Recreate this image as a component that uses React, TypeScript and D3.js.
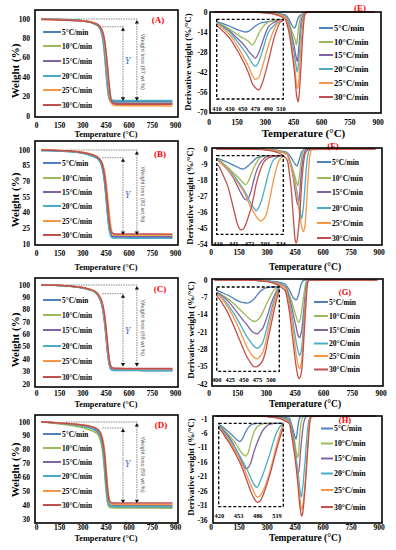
import React from 'react';
import * as d3 from 'd3';

const RATES = ['5°C/min', '10°C/min', '15°C/min', '20°C/min', '25°C/min', '30°C/min'];
const COLORS = ['#4F81BD', '#9BBB59', '#8064A2', '#4BACC6', '#F79646', '#C0504D'];
const TEMP_TICKS = [0, 150, 300, 450, 600, 750, 900];

// ---------- TGA (weight %) ----------
const TGA_T = [30, 100, 200, 300, 350, 380, 400, 420, 430, 440, 450, 460, 470, 480, 490, 500, 520, 600, 700, 880];

const A_TICKS = [0, 20, 40, 60, 80, 100];
const A_5 = [100, 99.8, 99.3, 98, 96.5, 94.5, 92.5, 86, 78, 64, 45, 28, 18, 15.5, 15.2, 15, 14.9, 14.8, 14.7, 14.6];
const A_10 = [100, 99.8, 99.3, 98, 96.5, 94.5, 92.5, 87, 80, 68, 50, 32, 19, 14.5, 13.8, 13.5, 13.4, 13.3, 13.2, 13.1];
const A_15 = [100, 99.8, 99.3, 98.2, 96.8, 95, 93, 88, 82, 72, 56, 38, 22, 15, 13.5, 13.2, 13.1, 13, 12.9, 12.8];
const A_20 = [100, 99.8, 99.3, 98.2, 96.8, 95, 93, 88, 82, 72, 56, 38, 24, 18, 16.5, 16.2, 16.1, 16, 16, 15.9];
const A_25 = [100, 99.6, 99, 98.3, 97.2, 95.8, 94, 90, 85, 77, 64, 47, 30, 17, 12, 11, 10.7, 10.6, 10.5, 10.4];
const A_30 = [99.5, 99.2, 98.7, 97.8, 96.8, 95.5, 94, 90, 86, 79, 67, 51, 34, 20, 14, 12.5, 12.2, 12.1, 12, 12];

const B_TICKS = [10, 25, 40, 55, 70, 85, 100];
const B_5 = [99.5, 99.2, 98.6, 96.8, 94.8, 93, 91, 86, 80, 70, 55, 38, 25, 19, 17, 16.6, 16.5, 16.4, 16.3, 16.2];
const B_10 = [100, 99.7, 99, 97.2, 95.3, 93.5, 91.5, 87, 82, 73, 60, 43, 28, 20, 18, 17.7, 17.6, 17.5, 17.4, 17.3];
const B_15 = [100, 99.7, 99.1, 97.4, 95.6, 94, 92, 87.5, 82, 73, 59, 42, 28, 20, 17.5, 17.2, 17.1, 17, 17, 16.9];
const B_20 = [99.5, 99.2, 98.6, 96.8, 94.8, 93, 91, 86, 80, 70, 56, 39, 25, 18, 16, 15.8, 15.7, 15.6, 15.5, 15.5];
const B_25 = [100, 99.8, 99.3, 97.8, 96.3, 94.8, 93, 89.5, 86, 80, 70, 56, 41, 28, 21, 19, 18.7, 18.6, 18.5, 18.5];
const B_30 = [100, 99.8, 99.2, 97.6, 96, 94.4, 92.5, 88.5, 84, 76, 64, 48, 33, 23, 20.5, 19.8, 19.6, 19.5, 19.5, 19.4];

const C_TICKS = [20, 30, 40, 50, 60, 70, 80, 90, 100];
const C_5 = [100, 99.8, 99.2, 97.5, 95.8, 94, 91, 85, 79, 70, 58, 45, 36, 32, 31.2, 31, 30.9, 30.9, 30.8, 30.8];
const C_10 = [100, 99.8, 99.2, 97.6, 96, 94.2, 91.5, 86, 80.5, 72, 60, 47, 37, 33, 32, 31.7, 31.6, 31.6, 31.5, 31.5];
const C_15 = [100, 99.8, 99.3, 97.7, 96, 94.3, 91.5, 86, 81, 72.5, 61, 48, 38, 33, 32.2, 32, 31.9, 31.9, 31.8, 31.8];
const C_20 = [100, 99.8, 99.2, 97.6, 96, 94.2, 91.5, 86, 80.5, 72, 60, 47, 37, 32.5, 31.5, 31.2, 31.1, 31.1, 31, 31];
const C_25 = [100, 99.8, 99.3, 97.8, 96.3, 94.6, 92, 87, 82.5, 75, 64, 51, 40, 34.5, 33, 32.6, 32.5, 32.4, 32.3, 32.3];
const C_30 = [100, 99.8, 99.3, 97.9, 96.5, 94.8, 92.5, 88, 83.5, 76.5, 66, 53, 41.5, 35, 33.2, 32.8, 32.7, 32.6, 32.5, 32.5];

const D_TICKS = [30, 40, 50, 60, 70, 80, 90, 100];
const D_5 = [100, 99.6, 98.6, 97, 95.5, 94, 92, 86, 79, 67, 53, 43, 39.5, 38.8, 38.6, 38.5, 38.4, 38.4, 38.3, 38.3];
const D_10 = [100, 99.3, 97.8, 95.8, 94, 92.5, 90.5, 84, 77, 65, 51, 41.5, 38.7, 38.2, 38.1, 38, 38, 37.9, 37.9, 37.8];
const D_15 = [100, 99.6, 98.7, 97.2, 96, 94.8, 93, 88, 82, 72, 58, 46, 41, 40, 39.8, 39.7, 39.6, 39.6, 39.5, 39.5];
const D_20 = [100, 99.6, 98.6, 97, 95.7, 94.3, 92.5, 87, 80.5, 70, 56, 45, 40.5, 39.4, 39.2, 39.1, 39.1, 39, 39, 39];
const D_25 = [100, 99.7, 99, 97.8, 96.8, 95.8, 94.5, 91, 87, 80, 68, 54, 45, 41.5, 40.8, 40.6, 40.6, 40.5, 40.5, 40.5];
const D_30 = [100, 99.7, 99, 97.8, 96.8, 95.7, 94.2, 90, 85, 77, 64, 51, 44, 42, 41.7, 41.6, 41.6, 41.5, 41.5, 41.5];

// ---------- DTG (derivative weight %/°C) ----------
const E_T = [30, 150, 250, 300, 350, 380, 400, 410, 420, 430, 440, 450, 455, 460, 465, 470, 475, 480, 490, 500, 510, 520, 530, 600, 700, 880];
const E_TICKS = [0, -14, -28, -42, -56, -70];
const E_INSET_TICKS = [410, 430, 450, 470, 490, 510];
const E_5 = [0, 0, -0.1, -0.3, -0.8, -1.4, -1.9, -2.4, -4, -6.2, -8.8, -10.8, -11.3, -10.5, -8.5, -6, -4.2, -3, -2, -1.2, -0.5, -0.1, 0, 0, 0, 0];
const E_10 = [0, 0, -0.1, -0.4, -1, -1.8, -2.6, -3.3, -5.5, -9, -13, -16.5, -18, -20, -23, -19, -13, -8, -2.5, -1, -0.3, 0, 0, 0, 0, 0];
const E_15 = [0, 0, -0.1, -0.4, -1.1, -2, -2.9, -3.6, -6.5, -10.4, -16, -21.6, -25, -29, -32, -34.7, -30, -22, -7, -2.5, -0.5, -0.1, 0, 0, 0, 0];
const E_20 = [0, 0, -0.1, -0.4, -1.1, -2, -2.9, -3.6, -7, -11.5, -18.5, -26, -30, -34.5, -39, -42, -38, -30, -12, -5, -0.8, -0.2, 0, 0, 0, 0];
const E_25 = [0, 0, -0.1, -0.5, -1.2, -2.2, -3.2, -4.1, -8.5, -13.9, -22, -32, -37, -43, -49.8, -53.5, -52, -44, -24, -8, -1, -0.2, 0, 0, 0, 0];
const E_30 = [0, 0, -0.2, -0.6, -1.6, -3, -4.5, -5.9, -11, -17, -26, -36.4, -42, -49, -57, -61, -63, -58, -38, -15, -2, -0.4, 0, 0, 0, 0];

const F_T = [30, 150, 250, 300, 350, 380, 400, 410, 420, 430, 440, 450, 455, 460, 465, 470, 475, 480, 485, 490, 495, 500, 505, 510, 520, 530, 540, 600, 700, 880];
const F_TICKS = [0, -9, -18, -27, -36, -45, -54];
const F_INSET_TICKS = [410, 441, 472, 503, 534];
const F_5 = [0, 0, -0.1, -0.3, -0.7, -1.2, -1.7, -2.1, -3.5, -5, -6.8, -8.5, -9.3, -9.6, -8.6, -7.1, -5.3, -3.5, -1.9, -1.1, -0.5, -0.2, 0, 0, 0, 0, 0, 0, 0, 0];
const F_10 = [0, 0, -0.1, -0.3, -0.8, -1.5, -2.1, -2.6, -5.5, -8.5, -12.3, -15.7, -17.7, -19.6, -20.9, -18.2, -13.7, -9.1, -5.5, -2.7, -0.9, -0.3, 0, 0, 0, 0, 0, 0, 0, 0];
const F_15 = [0, 0, -0.1, -0.4, -1, -1.8, -2.7, -3.4, -6.8, -10.5, -15.9, -23.2, -26.8, -30, -31.8, -30.5, -25.5, -18.2, -11.8, -7.3, -4.3, -2.3, -0.7, -0.2, 0, 0, 0, 0, 0, 0];
const F_20 = [0, 0, -0.1, -0.4, -1, -1.8, -2.7, -3.4, -6.4, -9.6, -13.7, -18.7, -21.4, -24.1, -27.3, -31, -34.6, -37.3, -39.6, -37.3, -33, -26.4, -19.1, -11.8, -2.7, -0.5, 0, 0, 0, 0];
const F_25 = [0, 0, -0.1, -0.4, -1, -1.8, -2.7, -3.4, -6.8, -10, -15, -20, -22.8, -25.5, -29.1, -33.7, -37.3, -40.5, -43.7, -46, -47, -45.5, -42.3, -34.6, -16.4, -3.6, -0.5, 0, 0, 0];
const F_30 = [0, 0, -0.2, -0.7, -1.8, -3.3, -5, -6.8, -13.9, -22.8, -37.3, -51, -53.4, -52.8, -49.1, -43.7, -37.9, -30, -20.9, -14.1, -8.6, -4.7, -2.7, -1.4, -0.5, 0, 0, 0, 0, 0];

const G_T = [30, 150, 250, 300, 350, 380, 400, 410, 420, 430, 440, 450, 455, 460, 465, 470, 475, 480, 485, 490, 495, 500, 505, 510, 515, 520, 530, 600, 700, 880];
const G_TICKS = [0, -7, -14, -21, -28, -35, -42];
const G_INSET_TICKS = [400, 425, 450, 475, 500];
const G_5 = [0, 0, -0.1, -0.3, -0.7, -1.2, -1.7, -2.8, -4, -5.5, -7, -7.8, -8, -7.8, -6.8, -5.6, -3.8, -2.2, -1.2, -0.5, -0.2, 0, 0, 0, 0, 0, 0, 0, 0, 0];
const G_10 = [0, 0, -0.1, -0.4, -1, -1.7, -2.5, -4, -5.8, -8, -10.5, -13.2, -14.5, -15.8, -16.7, -17.2, -16.5, -15, -12.5, -9.5, -6.7, -4, -1.7, -0.6, -0.3, 0, 0, 0, 0, 0];
const G_15 = [0, 0, -0.1, -0.4, -1.1, -1.9, -2.8, -4.5, -6.8, -10, -13.5, -17, -18.5, -20.5, -22, -23, -23.3, -22, -20.5, -17, -13, -8.5, -5, -2, -0.5, 0, 0, 0, 0, 0];
const G_20 = [0, 0, -0.1, -0.4, -1.2, -2, -3, -5.5, -8.5, -12.5, -17, -22, -24.5, -26.5, -28.3, -29.8, -30.5, -29.5, -27.5, -23, -17.5, -12, -7, -3, -0.8, 0, 0, 0, 0, 0];
const G_25 = [0, 0, -0.1, -0.5, -1.3, -2.2, -3.3, -6, -9.8, -14.5, -20, -26.5, -29.5, -32, -34, -35.3, -35.8, -34.5, -32.5, -28, -21.5, -15, -9, -4, -1.2, -0.2, 0, 0, 0, 0];
const G_30 = [0, 0, -0.2, -0.6, -1.7, -3, -4.5, -8, -12.5, -18.5, -25, -31.5, -34.5, -36.8, -38.8, -39.8, -39.5, -38.5, -36.5, -32, -25.5, -19, -12.5, -6.5, -1.7, -0.3, 0, 0, 0, 0];

const H_T = [30, 150, 250, 300, 350, 380, 400, 420, 430, 440, 450, 455, 460, 465, 470, 475, 480, 485, 490, 495, 500, 505, 510, 515, 520, 525, 530, 540, 600, 700, 880];
const H_TICKS = [-1, -6, -11, -16, -21, -26, -31, -36];
const H_INSET_TICKS = [420, 453, 486, 519];
const H_5 = [0, 0, 0, -0.1, -0.2, -0.4, -0.5, -0.7, -2.5, -4.7, -7.2, -8, -6.6, -3.8, -1.8, -0.6, -0.2, 0, 0, 0, 0, 0, 0, 0, 0, 0, 0, 0, 0, 0, 0];
const H_10 = [0, 0, 0, -0.1, -0.3, -0.6, -0.9, -1.2, -3.5, -6.2, -9.5, -11.7, -13.3, -14.3, -12.5, -7.5, -3.6, -1.5, -0.6, -0.2, 0, 0, 0, 0, 0, 0, 0, 0, 0, 0, 0];
const H_15 = [0, 0, 0, -0.1, -0.4, -0.7, -1.1, -1.5, -4, -7.2, -12, -14.6, -17.5, -19.8, -19.3, -16.5, -12, -8.5, -5.5, -3, -1.5, -0.6, -0.2, 0, 0, 0, 0, 0, 0, 0, 0];
const H_20 = [0, 0, 0, -0.1, -0.4, -0.8, -1.2, -1.75, -4.7, -8, -12, -14.2, -16.5, -19, -21.5, -24.5, -27, -28, -25.5, -22.3, -18.5, -14.8, -10.5, -6.2, -3.2, -1.2, -0.3, 0, 0, 0, 0];
const H_25 = [0, 0, 0, -0.1, -0.5, -0.9, -1.5, -2.2, -5.3, -9, -13.2, -15.6, -18.4, -21.3, -24.4, -27.5, -30.3, -32.3, -31.7, -29.6, -26.5, -22.7, -18, -13, -8, -3.5, -0.7, 0, 0, 0, 0];
const H_30 = [0, 0, 0, -0.2, -0.6, -1.1, -1.8, -2.6, -5.9, -9.8, -14.5, -17, -20, -23.5, -27, -30.5, -33, -34.6, -34, -31.5, -28, -24, -19.5, -14.5, -10, -5.5, -2, -0.2, 0, 0, 0];

// ---------- layout (pixels) ----------
const SERIF = '"Liberation Serif", "Times New Roman", serif';
const SANS = '"Liberation Sans", Arial, sans-serif';

const TGA_PANELS = [
  { tag: '(A)', loss: 'Weight loss (87 wt.%)', ticks: A_TICKS, series: [A_5, A_10, A_15, A_20, A_25, A_30], lv2: 92, resid: 15.5, yMark: 57,
    L: { fx0: 35, fy0: 10, fx1: 178, fy1: 117, yTop: 19, yBot: 116, xLab: 125, xTitle: 134, yTitleY: 71, leg: [32, 46, 61, 76, 90, 105], tagX: 158, tagY: 20 } },
  { tag: '(B)', loss: 'Weight loss (82 wt.%)', ticks: B_TICKS, series: [B_5, B_10, B_15, B_20, B_25, B_30], lv2: 92.6, resid: 18.6, yMark: 57,
    L: { fx0: 35, fy0: 141, fx1: 178, fy1: 245, yTop: 150, yBot: 244, xLab: 253, xTitle: 267, yTitleY: 200, leg: [163, 178, 192, 206, 221, 235], tagX: 160, tagY: 154 } },
  { tag: '(C)', loss: 'Weight loss (68 wt.%)', ticks: C_TICKS, series: [C_5, C_10, C_15, C_20, C_25, C_30], lv2: 93, resid: 34, yMark: 63,
    L: { fx0: 35, fy0: 278, fx1: 178, fy1: 387, yTop: 285, yBot: 384, xLab: 393, xTitle: 404, yTitleY: 340, leg: [300, 315, 330, 346, 361, 377], tagX: 160, tagY: 289 } },
  { tag: '(D)', loss: 'Weight loss (59 wt.%)', ticks: D_TICKS, series: [D_5, D_10, D_15, D_20, D_25, D_30], lv2: 95.7, resid: 41.3, yMark: 70,
    L: { fx0: 35, fy0: 415, fx1: 178, fy1: 523, yTop: 422, yBot: 519, xLab: 527, xTitle: 538, yTitleY: 470, leg: [434, 448, 462, 476, 491, 505], tagX: 161, tagY: 425 } },
];

const DTG_PANELS = [
  { tag: '(E)', T: E_T, ticks: E_TICKS, insetTicks: E_INSET_TICKS, depth: 71, series: [E_5, E_10, E_15, E_20, E_25, E_30],
    L: { fx0: 210, fy0: 12, fx1: 381, fy1: 113, xr0: 209, xr1: 378, yTop: 12, yBot: 112, xLab: 122, xTitle: 133, titleSize: 11, yTitleX: 188, yTitleY: 62,
      lx0: 319, lx1: 333, ltx: 334, legSize: 8.5, leg: [28, 42, 55, 69, 83, 97], tagX: 360, tagY: 8, tagSize: 9,
      bx0: 216.7, by0: 19.3, bx1: 283.3, by1: 99, ir0: 217, ir1: 281, iLab: 108 } },
  { tag: '(F)', T: F_T, ticks: F_TICKS, insetTicks: F_INSET_TICKS, depth: 56.6, series: [F_5, F_10, F_15, F_20, F_25, F_30],
    L: { fx0: 212, fy0: 148, fx1: 382, fy1: 245, xr0: 211, xr1: 379, yTop: 149, yBot: 244, xLab: 252, xTitle: 267, titleSize: 9.5, yTitleX: 190, yTitleY: 196,
      lx0: 317, lx1: 331, ltx: 332, legSize: 7.6, leg: [162, 178, 192, 208, 223, 238], tagX: 333, tagY: 146, tagSize: 9,
      bx0: 216.7, by0: 155.7, bx1: 283.3, by1: 234.3, ir0: 218, ir1: 281, iLab: 243 } },
  { tag: '(G)', T: G_T, ticks: G_TICKS, insetTicks: G_INSET_TICKS, depth: 42, series: [G_5, G_10, G_15, G_20, G_25, G_30],
    L: { fx0: 212, fy0: 279, fx1: 383, fy1: 386, xr0: 209, xr1: 381, yTop: 280, yBot: 384, xLab: 393, xTitle: 404, titleSize: 9.5, yTitleX: 190.5, yTitleY: 330,
      lx0: 314, lx1: 328, ltx: 329, legSize: 7.6, leg: [302, 316, 330, 343.5, 356, 369.5], tagX: 345, tagY: 291.5, tagSize: 8.5,
      bx0: 216.7, by0: 287, bx1: 279.3, by1: 371.3, ir0: 216.7, ir1: 271, iLab: 379.5 } },
  { tag: '(H)', T: H_T, ticks: H_TICKS, insetTicks: H_INSET_TICKS, depth: 36.5, series: [H_5, H_10, H_15, H_20, H_25, H_30],
    L: { fx0: 213, fy0: 416, fx1: 382, fy1: 523, xr0: 211, xr1: 379, yTop: 419, yBot: 520, xLab: 527, xTitle: 538, titleSize: 9.5, yTitleX: 190.5, yTitleY: 467,
      lx0: 321, lx1: 333, ltx: 334, legSize: 7.8, leg: [428.5, 443.5, 458.5, 473.5, 490, 507], tagX: 345, tagY: 419.5, tagSize: 8.5,
      bx0: 218.7, by0: 423.3, bx1: 283.3, by1: 506.7, ir0: 219.3, ir1: 277, iLab: 515 } },
];

function DArrow({ x, y1, y2 }: { x: number; y1: number; y2: number }) {
  const h = 3.6, w = 2.1;
  return (
    <g>
      <line x1={x} x2={x} y1={y1 + h} y2={y2 - h} stroke="#555" strokeWidth={0.7} strokeDasharray="1.5,1" />
      <path d={`M${x},${y1}L${x - w},${y1 + h}L${x + w},${y1 + h}Z`} fill="#111" />
      <path d={`M${x},${y2}L${x - w},${y2 - h}L${x + w},${y2 - h}Z`} fill="#111" />
    </g>
  );
}

function TgaPanel({ p }: { p: any }) {
  const L = p.L;
  const x = d3.scaleLinear().domain([0, 900]).range([36.5, 175.5]);
  const y = d3.scaleLinear().domain([p.ticks[0], p.ticks[p.ticks.length - 1]]).range([L.yBot, L.yTop]);
  const line = d3.line<number>().x((_, i) => x(TGA_T[i])).y((d) => y(d)).curve(d3.curveMonotoneX);
  return (
    <g>
      {p.series.map((s: number[], i: number) => (
        <path key={i} d={line(s) || ''} fill="none" stroke={COLORS[i]} strokeWidth={1.5} />
      ))}
      <line x1={x(190)} x2={x(655)} y1={y(100)} y2={y(100)} stroke="#555" strokeWidth={0.7} strokeDasharray="1.5,1" />
      <line x1={x(425)} x2={x(565)} y1={y(p.lv2)} y2={y(p.lv2)} stroke="#555" strokeWidth={0.7} strokeDasharray="1.5,1" />
      <DArrow x={x(560)} y1={y(p.lv2) + 0.5} y2={y(p.resid)} />
      <DArrow x={x(650)} y1={y(100) + 1} y2={y(p.resid)} />
      <text x={x(590)} y={y(p.yMark)} fill="#4472C4" fontFamily={SERIF} fontStyle="italic" fontSize={10} textAnchor="middle" dominantBaseline="central">Y</text>
      <text transform={`translate(${x(690)},${(y(100) + y(p.resid)) / 2 + 2}) rotate(90)`} fill="#555" fontFamily={SANS} fontSize={5.8} textAnchor="middle" dominantBaseline="central">{p.loss}</text>
      {RATES.map((r, i) => (
        <g key={r}>
          <line x1={43} x2={61} y1={L.leg[i]} y2={L.leg[i]} stroke={COLORS[i]} strokeWidth={2} />
          <text x={62} y={L.leg[i]} fontFamily={SERIF} fontWeight="bold" fontSize={7.4} dominantBaseline="central">{r}</text>
        </g>
      ))}
      <text x={L.tagX} y={L.tagY} fill="#FF0000" fontFamily={SERIF} fontWeight="bold" fontSize={9} textAnchor="middle" dominantBaseline="central">{p.tag}</text>
      <rect x={L.fx0} y={L.fy0} width={L.fx1 - L.fx0} height={L.fy1 - L.fy0} fill="none" stroke="#000" strokeWidth={1.6} />
      {p.ticks.map((t: number) => (
        <text key={t} x={30} y={y(t)} fontFamily={SERIF} fontWeight="bold" fontSize={7.5} textAnchor="end" dominantBaseline="central">{t}</text>
      ))}
      {TEMP_TICKS.map((t) => (
        <text key={t} x={x(t)} y={L.xLab} fontFamily={SERIF} fontWeight="bold" fontSize={7.5} textAnchor="middle" dominantBaseline="central">{t}</text>
      ))}
      <text x={106} y={L.xTitle} fontFamily={SERIF} fontWeight="bold" fontSize={8.3} textAnchor="middle" dominantBaseline="central">Temperature (°C)</text>
      <text transform={`translate(14.5,${L.yTitleY}) rotate(-90)`} fontFamily={SERIF} fontWeight="bold" fontSize={11} textAnchor="middle" dominantBaseline="central">Weight (%)</text>
    </g>
  );
}

function DtgPanel({ p, idx }: { p: any; idx: number }) {
  const L = p.L;
  const x = d3.scaleLinear().domain([0, 900]).range([L.xr0, L.xr1]);
  const y = d3.scaleLinear().domain([p.ticks[p.ticks.length - 1], p.ticks[0]]).range([L.yBot, L.yTop]);
  const line = d3.line<number>().x((_, i) => x(p.T[i])).y((d) => y(d)).curve(d3.curveMonotoneX);
  const it = p.insetTicks;
  const ix = d3.scaleLinear().domain([it[0], it[it.length - 1]]).range([L.ir0, L.ir1]);
  const iy = d3.scaleLinear().domain([-p.depth, 0]).range([L.by1, L.by0]);
  const iline = d3.line<number>().x((_, i) => ix(p.T[i])).y((d) => iy(d)).curve(d3.curveMonotoneX);
  const cid = `inset-clip-${idx}`;
  return (
    <g>
      <defs>
        <clipPath id={cid}>
          <rect x={L.bx0} y={L.by0 - 1} width={L.bx1 - L.bx0} height={L.by1 - L.by0 + 1} />
        </clipPath>
      </defs>
      {p.series.map((s: number[], i: number) => (
        <path key={i} d={line(s) || ''} fill="none" stroke={COLORS[i]} strokeWidth={1.3} />
      ))}
      <g clipPath={`url(#${cid})`}>
        {p.series.map((s: number[], i: number) => (
          <path key={i} d={iline(s) || ''} fill="none" stroke={COLORS[i]} strokeWidth={1.3} />
        ))}
      </g>
      <rect x={L.bx0} y={L.by0} width={L.bx1 - L.bx0} height={L.by1 - L.by0} fill="none" stroke="#000" strokeWidth={1.3} strokeDasharray="3,2" />
      {it.map((t: number) => (
        <text key={t} x={ix(t)} y={L.iLab} fontFamily={SERIF} fontWeight="bold" fontSize={6.4} textAnchor="middle" dominantBaseline="central">{t}</text>
      ))}
      {RATES.map((r, i) => (
        <g key={r}>
          <line x1={L.lx0} x2={L.lx1} y1={L.leg[i]} y2={L.leg[i]} stroke={COLORS[i]} strokeWidth={2} />
          <text x={L.ltx} y={L.leg[i]} fontFamily={SERIF} fontWeight="bold" fontSize={L.legSize} dominantBaseline="central">{r}</text>
        </g>
      ))}
      <text x={L.tagX} y={L.tagY} fill="#FF0000" fontFamily={SERIF} fontWeight="bold" fontSize={L.tagSize} textAnchor="middle" dominantBaseline="central">{p.tag}</text>
      <rect x={L.fx0} y={L.fy0} width={L.fx1 - L.fx0} height={L.fy1 - L.fy0} fill="none" stroke="#000" strokeWidth={1.6} />
      {p.ticks.map((t: number) => (
        <text key={t} x={207.5} y={y(t)} fontFamily={SERIF} fontWeight="bold" fontSize={7.5} textAnchor="end" dominantBaseline="central">{t}</text>
      ))}
      {TEMP_TICKS.map((t) => (
        <text key={t} x={x(t)} y={L.xLab} fontFamily={SERIF} fontWeight="bold" fontSize={7.5} textAnchor="middle" dominantBaseline="central">{t}</text>
      ))}
      <text x={(L.xr0 + L.xr1) / 2 + 10} y={L.xTitle} fontFamily={SERIF} fontWeight="bold" fontSize={L.titleSize} textAnchor="middle" dominantBaseline="central">Temperature (°C)</text>
      <text transform={`translate(${L.yTitleX},${L.yTitleY}) rotate(-90)`} fontFamily={SERIF} fontWeight="bold" fontSize={9} textAnchor="middle" dominantBaseline="central">Derivative weight (%/°C)</text>
    </g>
  );
}

export default function App() {
  return (
    <div style={{ position: 'absolute', left: 0, top: 0 }}>
      <svg width={396} height={550} viewBox="0 0 396 550" style={{ display: 'block', background: '#fff' }}>
        <rect x={0} y={0} width={396} height={550} fill="#fff" />
        {TGA_PANELS.map((p, i) => <TgaPanel key={i} p={p} />)}
        {DTG_PANELS.map((p, i) => <DtgPanel key={i} p={p} idx={i} />)}
      </svg>
    </div>
  );
}
